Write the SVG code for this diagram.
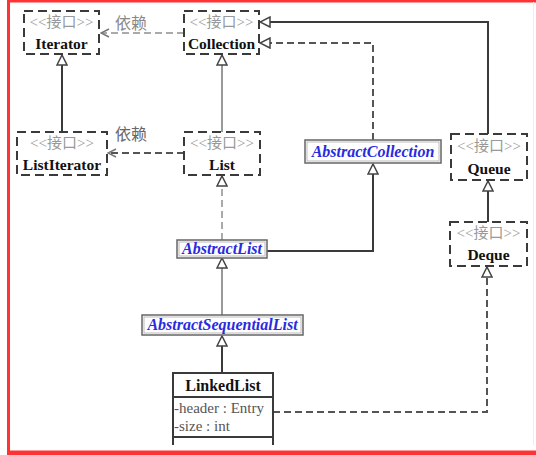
<svg xmlns="http://www.w3.org/2000/svg" width="536" height="455" viewBox="0 0 536 455">
<style>
.iface{fill:#fff;stroke:#3a3a3a;stroke-width:2;stroke-dasharray:9 5}
.st{font-family:"Liberation Serif","Noto Sans CJK SC",serif;font-size:15px;fill:#999;text-anchor:middle}
.nm{font-family:"Liberation Serif",serif;font-size:15.5px;font-weight:bold;fill:#111;text-anchor:middle}
.abs{font-family:"Liberation Serif",serif;font-size:16px;font-weight:bold;font-style:italic;fill:#2a2ae0;text-anchor:middle}
.ao{fill:#fff;stroke:#666;stroke-width:1.5}
.ai{fill:none;stroke:#bbb;stroke-width:1}
.sol{fill:none;stroke:#3a3a3a;stroke-width:2}
.solg{fill:none;stroke:#999;stroke-width:2}
.dsh{fill:none;stroke:#555;stroke-width:2;stroke-dasharray:7 4}
.dshg{fill:none;stroke:#aaa;stroke-width:2;stroke-dasharray:7 4}
.dep{font-family:"Liberation Serif","Noto Sans CJK SC",serif;font-size:16px;fill:#888}
.attr{font-family:"Liberation Serif",serif;font-size:15px;fill:#555}
</style>
<defs>
<marker id="gen" viewBox="0 0 12 12" refX="11" refY="6" markerWidth="12" markerHeight="12" markerUnits="userSpaceOnUse" orient="auto">
<path d="M1,1 L11,6 L1,11 Z" fill="#fff" stroke="#444" stroke-width="1.5"/>
</marker>
<marker id="open" viewBox="0 0 10 10" refX="9" refY="5" markerWidth="10" markerHeight="10" markerUnits="userSpaceOnUse" orient="auto">
<path d="M1,1 L9,5 L1,9" fill="none" stroke="#777" stroke-width="1.5"/>
</marker>
</defs>
<rect x="0" y="0" width="536" height="455" fill="#fff"/>
<g id="frame">
<rect x="7" y="0" width="3" height="455" fill="#f33"/>
<rect x="7" y="0" width="529" height="2.5" fill="#f33"/>
<rect x="7" y="450.5" width="529" height="4.5" fill="#f33"/>
<line x1="533.5" y1="2" x2="533.5" y2="445" stroke="#eee" stroke-width="1"/>
</g>
<g id="connectors">
<path class="sol" d="M62,132 V55" marker-end="url(#gen)"/>
<path class="solg" d="M222,132 V55" marker-end="url(#gen)"/>
<path class="dshg" d="M222,240 V176" marker-end="url(#gen)"/>
<path class="sol" d="M267,251 H373 V164" marker-end="url(#gen)"/>
<path class="dsh" d="M373,140 V43 H260" marker-end="url(#gen)"/>
<path class="sol" d="M488,134 V22 H260" marker-end="url(#gen)"/>
<path class="sol" d="M488,222 V181" marker-end="url(#gen)"/>
<path class="solg" d="M222,315 V258" marker-end="url(#gen)"/>
<path class="sol" d="M222,373 V336" marker-end="url(#gen)"/>
<path class="dsh" d="M273,412 H487 V267" marker-end="url(#gen)"/>
<path class="dshg" d="M184,33 H101" marker-end="url(#open)"/>
<path class="dsh" d="M184,153 H108" marker-end="url(#open)"/>
<text class="dep" x="115" y="29">依赖</text>
<text class="dep" x="115" y="140" style="fill:#666">依赖</text>
</g>
<g id="Iterator">
<rect class="iface" x="24" y="11" width="75" height="43"/>
<text class="st" x="61.5" y="27">&lt;&lt;接口&gt;&gt;</text>
<text class="nm" x="61.5" y="49">Iterator</text>
</g>
<g id="Collection">
<rect class="iface" x="184" y="11" width="75" height="43"/>
<text class="st" x="221.5" y="27">&lt;&lt;接口&gt;&gt;</text>
<text class="nm" x="221.5" y="49">Collection</text>
</g>
<g id="ListIterator">
<rect class="iface" x="17" y="132" width="90" height="43"/>
<text class="st" x="62" y="148">&lt;&lt;接口&gt;&gt;</text>
<text class="nm" x="62" y="170">ListIterator</text>
</g>
<g id="List">
<rect class="iface" x="184" y="132" width="76" height="43"/>
<text class="st" x="222" y="148">&lt;&lt;接口&gt;&gt;</text>
<text class="nm" x="222" y="170">List</text>
</g>
<g id="Queue">
<rect class="iface" x="451" y="134" width="76" height="46"/>
<text class="st" x="489" y="151">&lt;&lt;接口&gt;&gt;</text>
<text class="nm" x="489" y="174">Queue</text>
</g>
<g id="Deque">
<rect class="iface" x="450" y="222" width="77" height="44"/>
<text class="st" x="488.5" y="238">&lt;&lt;接口&gt;&gt;</text>
<text class="nm" x="488.5" y="260">Deque</text>
</g>
<g id="AbstractCollection">
<rect class="ao" x="305" y="140" width="136" height="23"/>
<rect class="ai" x="307" y="142" width="132" height="19"/>
<text class="abs" x="373" y="157">AbstractCollection</text>
</g>
<g id="AbstractList">
<rect class="ao" x="177" y="240" width="90" height="18"/>
<rect class="ai" x="179" y="242" width="86" height="14"/>
<text class="abs" x="222" y="254">AbstractList</text>
</g>
<g id="AbstractSequentialList">
<rect class="ao" x="142" y="315" width="161" height="20"/>
<rect class="ai" x="144" y="317" width="157" height="16"/>
<text class="abs" x="222.5" y="330">AbstractSequentialList</text>
</g>
<g id="LinkedList">
<rect x="173" y="373" width="100" height="72" fill="#fff"/>
<path class="sol" d="M173,445 V373 H273 V445 M173,397 H273 M173,437 H273"/>
<text class="nm" x="223" y="391" style="font-size:16px">LinkedList</text>
<text class="attr" x="174" y="413">-header : Entry</text>
<text class="attr" x="174" y="431">-size : int</text>
</g>
</svg>
